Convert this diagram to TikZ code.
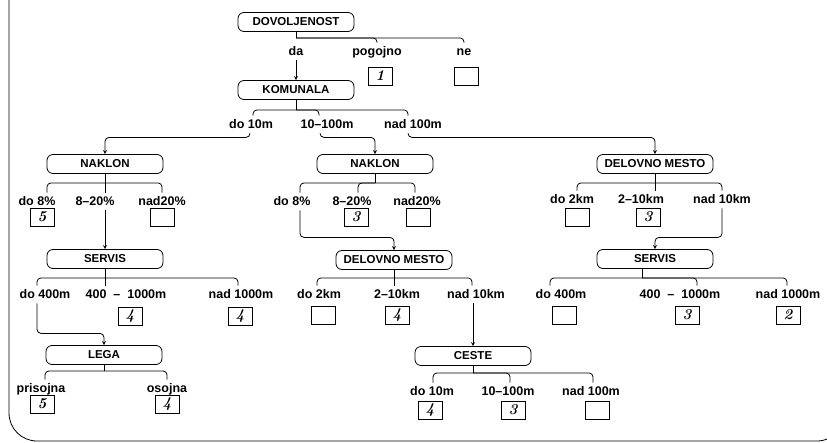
\documentclass[tikz,border=0pt]{standalone}
\usepackage{fontspec}
\newfontfamily\plotfont{Liberation Sans}

\begin{document}
\begin{tikzpicture}[
        x=1pt, y=-1pt,
        >=stealth,
        line width=0.8pt,
        attr/.style={draw, rounded corners=6pt, minimum width=116pt, minimum height=19pt,
            inner sep=2pt, font=\plotfont\bfseries\fontsize{11.5}{12}\selectfont},
        lbl/.style={anchor=base, inner sep=2pt, text height=10pt, text depth=3pt,
            font=\plotfont\bfseries\fontsize{12.5}{14}\selectfont},
        val/.style={draw, minimum width=24pt, minimum height=18pt, inner sep=0pt,
            font=\fontsize{15}{15}\selectfont\bfseries\itshape},
        branch/.style={rounded corners=4pt},
        arr/.style={->, rounded corners=4pt}
    ]

        \useasboundingbox (0,0) rectangle (827,442);

        % Rahmen
        \begin{scope}
            \clip (0,0) rectangle (827,442);
            \draw[rounded corners=28pt] (9,-5) -- (9,441) -- (845,441) -- (845,300);
        \end{scope}

        % DOVOLJENOST
        \node[attr] (dov) at (296,22) {DOVOLJENOST};
        \node[lbl] (da) at (296,55) {da};
        \node[lbl] (pog) at (377,55) {pogojno};
        \node[lbl] (ne) at (464,55) {ne};
        \node[val] (v1) at (380,76) {1};
        \node[val] (vne) at (466,76) {};
        \draw (dov.south) -- ++(0,6) coordinate (dovj);
        \draw[branch] (dovj) -| (pog.north);
        \draw[branch] (dovj) -| (ne.north);

        % KOMUNALA
        \node[attr] (kom) at (296,90) {KOMUNALA};
        \draw[arr] (da.south) -- (kom.north);
        \node[lbl] (k1) at (251,128) {do 10m};
        \node[lbl] (k2) at (327,128) {10–100m};
        \node[lbl] (k3) at (413,128) {nad 100m};
        \draw (kom.south) -- ++(0,10) coordinate (komj);
        \draw[branch] (komj) -| ([xshift=2pt]k1.north);
        \draw[branch] (komj) -| ([xshift=-8pt]k2.north);
        \draw[branch] (komj) -| ([xshift=-5pt]k3.north);

        % NAKLON (levo)
        \node[attr] (nak1) at (105,164) {NAKLON};
        \draw[arr] ([xshift=-1pt]k1.south) -- ++(0,4) -| (nak1.north);
        \node[lbl] (n1a) at (37,205) {do 8\%};
        \node[lbl] (n1b) at (95,205) {8–20\%};
        \node[lbl] (n1c) at (162,205) {nad20\%};
        \node[val] (vn1a) at (42,217) {5};
        \node[val] (vn1c) at (162,217) {};
        \draw (nak1.south) -- ++(0,9) coordinate (n1j);
        \draw[branch] (n1j) -| ([xshift=10pt]n1a.north);
        \draw (n1j) -- (n1j |- n1b.north);
        \draw[branch] (n1j) -| (n1c.north);

        % SERVIS (levo)
        \node[attr] (ser1) at (105,259) {SERVIS};
        \draw[arr] (ser1.north |- n1b.south) -- (ser1.north);
        \node[lbl] (s1a) at (45,298) {do 400m};
        \node[lbl] (s1b) at (126,298) {400 \ – \ 1000m};
        \node[lbl] (s1c) at (241,298) {nad 1000m};
        \node[val] (vs1b) at (130,316) {4};
        \node[val] (vs1c) at (240,316) {4};
        \draw (ser1.south) -- ++(0,9) coordinate (s1j);
        \draw[branch] (s1j) -| ([xshift=-8pt]s1a.north);
        \draw (s1j) -- (s1j |- s1b.north);
        \draw[branch] (s1j) -| ([xshift=-3pt]s1c.north);

        % LEGA
        \node[attr] (lega) at (104,355) {LEGA};
        \draw[arr] ([xshift=-8pt]s1a.south) -- ++(0,30) -| (lega.north);
        \node[lbl] (la) at (41,392) {prisojna};
        \node[lbl] (lb) at (167,392) {osojna};
        \node[val] (vla) at (42,404) {5};
        \node[val] (vlb) at (167,404) {4};
        \draw (lega.south) -- ++(0,6) coordinate (lj);
        \draw[branch] (lj) -| ([xshift=4pt]la.north);
        \draw[branch] (lj) -| (lb.north);

        % NAKLON (sredina)
        \node[attr] (nak2) at (375,164) {NAKLON};
        \draw[arr] ([xshift=-7pt]k2.south) -- ++(0,4) -| (nak2.north);
        \node[lbl] (n2a) at (292,205) {do 8\%};
        \node[lbl] (n2b) at (352,205) {8–20\%};
        \node[lbl] (n2c) at (417,205) {nad20\%};
        \node[val] (vn2b) at (356,217) {3};
        \node[val] (vn2c) at (418,217) {};
        \draw (nak2.south) -- ++(0,9) coordinate (n2j);
        \draw[branch] (n2j) -| ([xshift=8pt]n2a.north);
        \draw[branch] (n2j) -| ([xshift=6pt]n2b.north);
        \draw[branch] (n2j) -| ([xshift=-2pt]n2c.north);

        % DELOVNO MESTO (sredina)
        \node[attr] (dm2) at (394,260) {DELOVNO MESTO};
        \draw[arr] ([xshift=8pt]n2a.south) -- ++(0,27) -| (dm2.north);
        \node[lbl] (d2a) at (319,298) {do 2km};
        \node[lbl] (d2b) at (397,298) {2–10km};
        \node[lbl] (d2c) at (476,298) {nad 10km};
        \node[val] (vd2a) at (323,315) {};
        \node[val] (vd2b) at (397,315) {4};
        \draw (dm2.south) -- ++(0,8) coordinate (d2j);
        \draw[branch] (d2j) -| ([xshift=-2pt]d2a.north);
        \draw (d2j) -- (d2j |- d2b.north);
        \draw[branch] (d2j) -| ([xshift=-4pt]d2c.north);

        % CESTE
        \node[attr] (ces) at (473,356) {CESTE};
        \draw[arr] (ces.north |- d2c.south) -- (ces.north);
        \node[lbl] (ca) at (432,395) {do 10m};
        \node[lbl] (cb) at (508,395) {10–100m};
        \node[lbl] (cc) at (591,395) {nad 100m};
        \node[val] (vca) at (430,410) {4};
        \node[val] (vcb) at (513,410) {3};
        \node[val] (vcc) at (597,410) {};
        \draw (ces.south) -- ++(0,7) coordinate (cj);
        \draw[branch] (cj) -| ([xshift=1pt]ca.north);
        \draw[branch] (cj) -| ([xshift=2pt]cb.north);
        \draw[branch] (cj) -| ([xshift=2pt]cc.north);

        % DELOVNO MESTO (desno)
        \node[attr] (dm1) at (655,164) {DELOVNO MESTO};
        \draw[arr] ([xshift=-5pt]k3.south) -- ++(0,4) -| (dm1.north);
        \node[lbl] (d1a) at (572,203) {do 2km};
        \node[lbl] (d1b) at (641,203) {2–10km};
        \node[lbl] (d1c) at (722,203) {nad 10km};
        \node[val] (vd1a) at (577,217) {};
        \node[val] (vd1b) at (648,217) {3};
        \draw (dm1.south) -- ++(0,9) coordinate (d1j);
        \draw[branch] (d1j) -| ([xshift=5pt]d1a.north);
        \draw (d1j) -- (d1j |- d1b.north);
        \draw[branch] (d1j) -| (d1c.north);

        % SERVIS (desno)
        \node[attr] (ser2) at (655,259) {SERVIS};
        \draw[arr] (d1c.south) -- ++(0,29) -| (ser2.north);
        \node[lbl] (s2a) at (561,298) {do 400m};
        \node[lbl] (s2b) at (680,298) {400 \ – \ 1000m};
        \node[lbl] (s2c) at (788,298) {nad 1000m};
        \node[val] (vs2a) at (564,315) {};
        \node[val] (vs2b) at (687,315) {3};
        \node[val] (vs2c) at (788,315) {2};
        \draw ([xshift=-13pt]ser2.south) -- ++(0,9) coordinate (s2j);
        \draw[branch] (s2j) -| ([xshift=-11pt]s2a.north);
        \draw[branch] (s2j) -| ([xshift=17pt]s2b.north);
        \draw[branch] (s2j) -| ([xshift=-1pt]s2c.north);

    \end{tikzpicture}
\end{document}
